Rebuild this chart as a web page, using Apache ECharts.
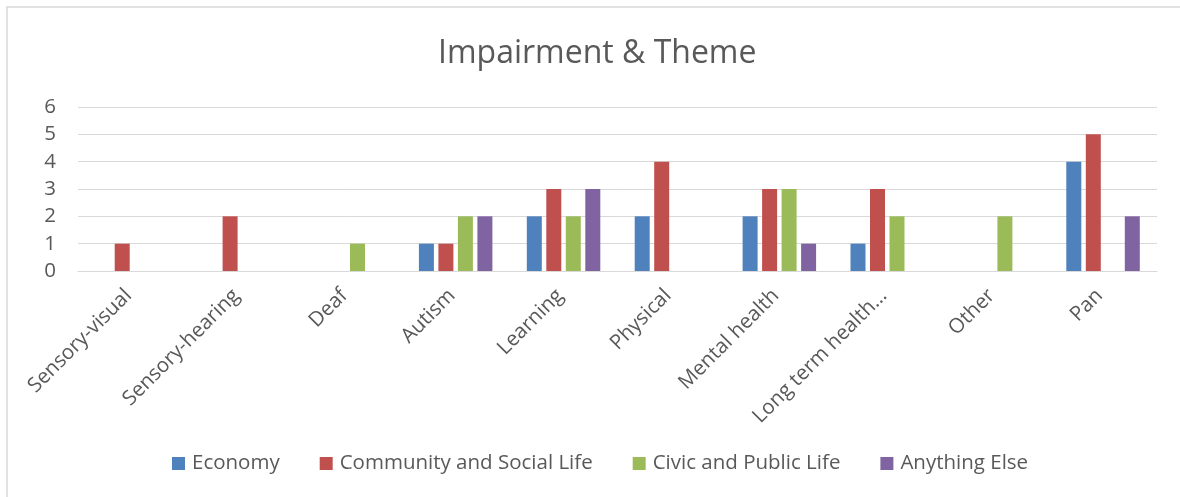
<!DOCTYPE html>
<html>
<head>
<meta charset="utf-8">
<title>Impairment &amp; Theme</title>
<script src="https://cdn.jsdelivr.net/npm/echarts@6/dist/echarts.min.js"></script>
<style>
  html, body { margin: 0; padding: 0; background: #ffffff; }
  #chart { width: 1180px; height: 497px; }
</style>
</head>
<body>
<div id="chart"></div>
<script>
// Impairment categories along the x axis
const categories = ['Sensory-visual', 'Sensory-hearing', 'Deaf', 'Autism', 'Learning', 'Physical', 'Mental health', 'Long term health…', 'Other', 'Pan'];

// Counts per theme
const economy = [0, 0, 0, 1, 2, 2, 2, 1, 0, 4];
const communitySocial = [1, 2, 0, 1, 3, 4, 3, 3, 0, 5];
const civicPublic = [0, 0, 1, 2, 2, 0, 3, 2, 2, 0];
const anythingElse = [0, 0, 0, 2, 3, 0, 1, 0, 0, 2];

const seriesNames = ['Economy', 'Community and Social Life', 'Civic and Public Life', 'Anything Else'];
const seriesColors = ['#4f81bd', '#c0504d', '#9bbb59', '#8064a2'];
const seriesData = [economy, communitySocial, civicPublic, anythingElse];

const FONT = "'Open Sans', 'Noto Sans', sans-serif";
const TEXT = '#595959';

const chart = echarts.init(document.getElementById('chart'), null, { renderer: 'canvas' });

chart.setOption({
  animation: false,
  backgroundColor: '#ffffff',
  textStyle: { fontFamily: FONT },
  graphic: [{
    type: 'rect',
    shape: { x: 7, y: 7, width: 1200, height: 520 },
    style: { fill: 'none', stroke: '#d9d9d9', lineWidth: 1.5 },
    silent: true,
    z: -1
  }],
  title: {
    text: 'Impairment & Theme',
    left: 433,
    top: 33,
    textStyle: { fontFamily: FONT, fontSize: 32, fontWeight: 'normal', color: TEXT }
  },
  legend: {
    data: seriesNames,
    bottom: 18,
    left: 167,
    itemWidth: 13,
    itemHeight: 13,
    itemGap: 40,
    icon: 'rect',
    textStyle: { fontFamily: FONT, fontSize: 20.5, color: TEXT, padding: [0, 0, 0, 2] }
  },
  grid: { left: 78, right: 23, top: 107, bottom: 226, containLabel: false },
  xAxis: {
    type: 'category',
    data: categories,
    axisLine: { show: true, lineStyle: { color: '#d9d9d9', width: 1 } },
    axisTick: { show: false },
    axisLabel: {
      interval: 0,
      rotate: 45,
      margin: 18,
      padding: [0, 5, 0, 0],
      fontFamily: FONT,
      fontSize: 20.5,
      color: TEXT
    }
  },
  yAxis: {
    type: 'value',
    min: 0,
    max: 6,
    interval: 1,
    axisLine: { show: false },
    axisTick: { show: false },
    axisLabel: { margin: 22, fontFamily: FONT, fontSize: 20.5, color: TEXT },
    splitLine: { lineStyle: { color: '#d9d9d9', width: 1 } }
  },
  series: seriesNames.map((name, i) => ({
    name: name,
    type: 'bar',
    data: seriesData[i],
    barWidth: 15,
    barGap: '30%',
    itemStyle: { color: seriesColors[i] }
  }))
});
</script>
</body>
</html>
